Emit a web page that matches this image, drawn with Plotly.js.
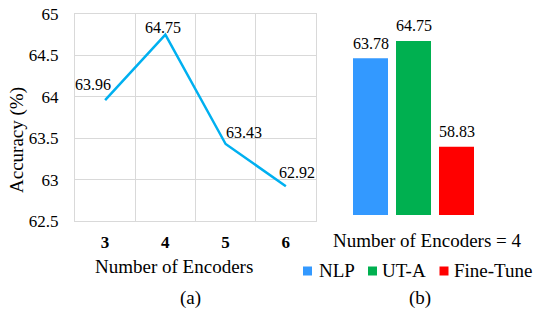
<!DOCTYPE html>
<html>
<head>
<meta charset="utf-8">
<script src="https://cdn.plot.ly/plotly-3.0.1.min.js"></script>
<style>html,body{margin:0;padding:0;background:#fff;}#chart{width:540px;height:309px;}</style>
</head>
<body>
<div id="chart"></div>
<script>
// ---- data (a): accuracy vs number of encoders
var encoderCounts = ['3', '4', '5', '6'];
var accuracyValues = [63.96, 64.75, 63.43, 62.92];

// ---- data (b): methods at 4 encoders
var methodNames = ['NLP', 'UT-A', 'Fine-Tune'];
var methodAccuracy = [63.78, 64.75, 58.83];
var methodColors = ['#3399FF', '#00B050', '#FF0000'];

// ---- text
var yTitleText = 'Accuracy (%)';
var xTitleText = 'Number of Encoders';
var groupTitleText = 'Number of Encoders = 4';
var captionA = '(a)';
var captionB = '(b)';

// ---- styling helpers (pixel -> paper)
var W = 540, H = 309;
function px(x) { return x / W; }
function py(y) { return 1 - y / H; }
var FONT = 'Liberation Serif';

// label offsets (style only)
var lineLabelShift = [[-12, 16], [-2, 7], [18, 12], [11, 14]];
var barLabelShift = 15;
var legendSquareCenterX = [307.5, 372.5, 444];
var legendTextX = [316.5, 380, 452.5];
var legendY = 270;

var traces = [];
traces.push({
  type: 'scatter', mode: 'lines',
  x: encoderCounts, y: accuracyValues,
  xaxis: 'x', yaxis: 'y',
  line: {color: '#00B0F0', width: 2.5},
  showlegend: false, hoverinfo: 'skip'
});
for (var i = 0; i < methodNames.length; i++) {
  traces.push({
    type: 'bar', name: methodNames[i],
    x: [methodNames[i]], y: [methodAccuracy[i]],
    xaxis: 'x2', yaxis: 'y2', width: 0.814,
    marker: {color: methodColors[i]},
    showlegend: false, hoverinfo: 'skip'
  });
}

var annotations = [];
for (var j = 0; j < encoderCounts.length; j++) {
  annotations.push({
    xref: 'x', yref: 'y', x: j, y: accuracyValues[j],
    text: accuracyValues[j].toFixed(2), showarrow: false,
    xanchor: 'center', yanchor: 'middle',
    xshift: lineLabelShift[j][0], yshift: lineLabelShift[j][1],
    font: {family: FONT, size: 16, color: '#000'}
  });
}
for (var b = 0; b < methodNames.length; b++) {
  annotations.push({
    xref: 'x2', yref: 'y2', x: methodNames[b], y: methodAccuracy[b],
    text: methodAccuracy[b].toFixed(2), showarrow: false,
    xanchor: 'center', yanchor: 'middle', yshift: barLabelShift,
    font: {family: FONT, size: 16, color: '#000'}
  });
}
function textAnn(t, x, y, size, extra) {
  var a = {xref: 'paper', yref: 'paper', x: px(x), y: py(y), text: t, showarrow: false,
    xanchor: 'center', yanchor: 'middle', font: {family: FONT, size: size, color: '#000'}};
  for (var k in (extra || {})) a[k] = extra[k];
  return a;
}
annotations.push(textAnn(yTitleText, 17, 140, 19, {textangle: -90}));
annotations.push(textAnn(xTitleText, 174, 266, 19));
annotations.push(textAnn(captionA, 190, 298, 19));
annotations.push(textAnn(groupTitleText, 427, 241, 19));
annotations.push(textAnn(captionB, 420, 298, 19));

var shapes = [];
for (var m = 0; m < methodNames.length; m++) {
  annotations.push(textAnn(methodNames[m], legendTextX[m], legendY, 19, {xanchor: 'left'}));
  shapes.push({
    type: 'rect', xref: 'paper', yref: 'paper',
    x0: px(legendSquareCenterX[m] - 4.5), x1: px(legendSquareCenterX[m] + 4.5),
    y0: py(legendY + 5.5), y1: py(legendY - 3.5),
    fillcolor: methodColors[m], line: {width: 0}
  });
}

var layout = {
  width: W, height: H,
  margin: {l: 0, r: 0, t: 0, b: 0, pad: 0},
  paper_bgcolor: '#fff', plot_bgcolor: 'rgba(0,0,0,0)',
  showlegend: false,
  font: {family: FONT, color: '#000'},
  barmode: 'overlay',
  xaxis: {
    type: 'category', domain: [px(75), px(316)], range: [-0.5, 3.5],
    tickson: 'boundaries', showgrid: true, gridcolor: '#d9d9d9', gridwidth: 1,
    showline: true, mirror: true, linecolor: '#d9d9d9', linewidth: 1,
    ticks: '', ticklabelstandoff: 6,
    tickfont: {family: FONT, size: 17, color: '#000', weight: 'bold'},
    fixedrange: true
  },
  yaxis: {
    domain: [py(221), py(14)], range: [62.5, 65], tick0: 62.5, dtick: 0.5,
    showgrid: true, gridcolor: '#d9d9d9', gridwidth: 1, zeroline: false,
    showline: true, mirror: true, linecolor: '#d9d9d9', linewidth: 1,
    ticks: '', ticklabelstandoff: 12,
    tickfont: {family: FONT, size: 17, color: '#000'},
    fixedrange: true
  },
  xaxis2: {
    type: 'category', domain: [px(349), px(478)], range: [-0.5, 2.5],
    visible: false, anchor: 'y2', fixedrange: true
  },
  yaxis2: {
    domain: [py(215), py(36.5)], range: [55, 65],
    visible: false, anchor: 'x2', fixedrange: true
  },
  annotations: annotations,
  shapes: shapes
};

Plotly.newPlot('chart', traces, layout, {displayModeBar: false, staticPlot: true});
</script>
</body>
</html>
